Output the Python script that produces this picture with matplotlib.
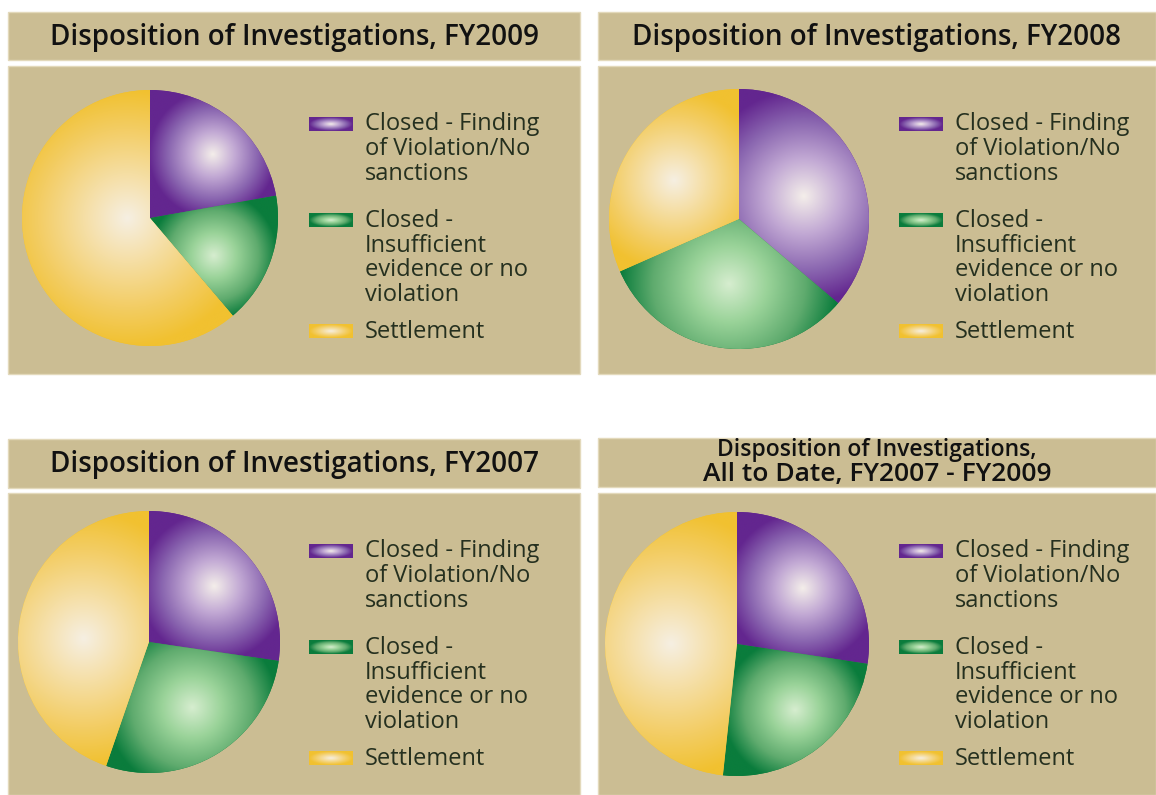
import numpy as np
import matplotlib
matplotlib.use("Agg")
import matplotlib.pyplot as plt
from matplotlib.patches import Rectangle
from matplotlib.colors import LinearSegmentedColormap

W, H = 1156, 795

categories = ["Closed - Finding\nof Violation/No\nsanctions",
              "Closed -\nInsufficient\nevidence or no\nviolation",
              "Settlement"]
titles = ["Disposition of Investigations, FY2009",
          "Disposition of Investigations, FY2008",
          "Disposition of Investigations, FY2007",
          "Disposition of Investigations,\nAll to Date, FY2007 - FY2009"]
# slice shares (%), clockwise from 12 o'clock
share_fy2009 = [22.2, 16.6, 61.2]
share_fy2008 = [36.2, 32.2, 31.6]
share_fy2007 = [27.3, 28.0, 44.7]
share_all = [27.4, 24.3, 48.3]
shares = [share_fy2009, share_fy2008, share_fy2007, share_all]

# gradient stops, centre -> rim
grad_stops = [
    ["#f4eeea", "#c2a9d4", "#8a66b0", "#63268f"],
    ["#d6edcf", "#9ad399", "#5fab6e", "#0a7c3c"],
    ["#f6efe2", "#f5dea3", "#f3cd64", "#f1c130"],
]
BEIGE = "#cbbd93"

plt.rcParams['font.family'] = ['Open Sans', 'DejaVu Sans']


def make_cmap(stops):
    return LinearSegmentedColormap.from_list("g", list(zip([0, 0.35, 0.7, 1.0], stops)))


fig = plt.figure(figsize=(W / 100, H / 100), dpi=100)
bg = fig.add_axes([0, 0, 1, 1])
bg.axis("off")

# panel geometry in pixels: x0, x1, title top/bottom, body top/bottom
panels = [
    (8, 580, 12, 60, 66, 374),
    (598, 1156, 12, 60, 66, 374),
    (8, 580, 439, 488, 493, 795),
    (598, 1156, 438, 487, 493, 795),
]
# pie centre + radius (px)
pies = [(150, 218, 128), (739, 219, 130), (149, 642, 131), (737, 644, 132)]


def legend_chip(x, y, stops, w=44, h=14):
    gx, gy = np.meshgrid(np.linspace(-1, 1, 120), np.linspace(-1, 1, 40))
    t = np.clip(np.hypot(gx, gy), 0, 1)
    bg.imshow(t, cmap=make_cmap(stops), vmin=0, vmax=1, extent=(x, x + w, y + h / 2, y - h / 2),
              aspect="auto", interpolation="bilinear", zorder=3)


def draw_pie(cx, cy, r, values):
    ax = fig.add_axes([(cx - r) / W, 1 - (cy + r) / H, 2 * r / W, 2 * r / H])
    wedges, _ = ax.pie(values, startangle=90, counterclock=False, radius=1,
                       colors=[s[-1] for s in grad_stops], wedgeprops=dict(linewidth=0))
    gx, gy = np.meshgrid(np.linspace(-1, 1, 400), np.linspace(-1, 1, 400))
    for w, stops in zip(wedges, grad_stops):
        th = np.radians(np.linspace(w.theta1, w.theta2, 200))
        px = np.concatenate([[0], np.cos(th)])
        py = np.concatenate([[0], np.sin(th)])
        hx, hy = (px.min() + px.max()) / 2, (py.min() + py.max()) / 2
        R = max(px.max() - px.min(), py.max() - py.min()) / 2
        t = np.clip(np.hypot(gx - hx, gy - hy) / R, 0, 1)
        im = ax.imshow(t, cmap=make_cmap(stops), vmin=0, vmax=1, extent=(-1, 1, -1, 1),
                       origin="lower", interpolation="bilinear", zorder=2)
        im.set_clip_path(w)
    ax.set_xlim(-1, 1)
    ax.set_ylim(-1, 1)
    ax.set_aspect("equal")
    ax.axis("off")


for (x0, x1, ty0, ty1, by0, by1), title, vals, (cx, cy, r) in zip(panels, titles, shares, pies):
    bg.add_patch(Rectangle((x0, ty0), x1 - x0, ty1 - ty0, facecolor=BEIGE, edgecolor="#e3d9bb", lw=1))
    bg.add_patch(Rectangle((x0, by0), x1 - x0, by1 - by0, facecolor=BEIGE, edgecolor="#e3d9bb", lw=1))
    lines = title.split("\n")
    if len(lines) == 1:
        bg.text((x0 + x1) / 2, (ty0 + ty1) / 2 + 1, title, ha="center", va="center",
                fontsize=20, fontweight="semibold", color="#111111")
    else:
        # two-line title: first line set a bit smaller
        bg.text((x0 + x1) / 2, ty0 + 18, lines[0], ha="center", va="baseline",
                fontsize=16.5, fontweight="semibold", color="#111111")
        bg.text((x0 + x1) / 2, ty0 + 43, lines[1], ha="center", va="baseline",
                fontsize=19, fontweight="semibold", color="#111111")
    draw_pie(cx, cy, r, vals)
    # legend
    chip_y = [by0 + 58, by0 + 154, by0 + 265]
    text_y = [by0 + 83, by0 + 192, by0 + 266]
    for stops, label, cyy, tyy in zip(grad_stops, categories, chip_y, text_y):
        legend_chip(x0 + 301, cyy, stops)
        bg.text(x0 + 357, tyy, label, ha="left", va="center", fontsize=17,
                color="#25301f", linespacing=1.04)

bg.set_xlim(0, W)
bg.set_ylim(H, 0)

fig.savefig("out.png", dpi=100, facecolor="white")
